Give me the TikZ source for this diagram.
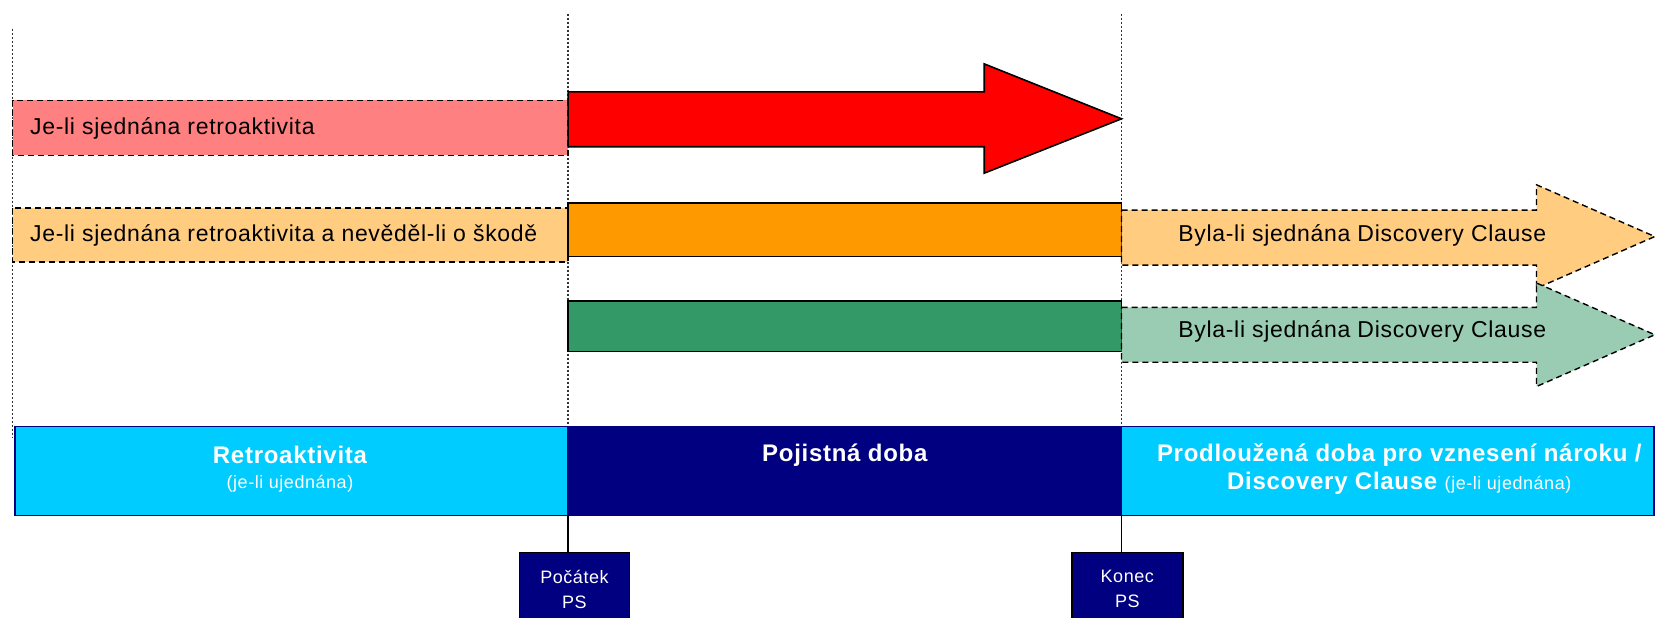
\documentclass[tikz,border=0pt]{standalone}
\usepackage{fontspec}
\setmainfont{Liberation Sans}[LetterSpace=3]
\definecolor{cRed}{HTML}{FF0000}
\definecolor{cOrange}{HTML}{FF9900}
\definecolor{cGreen}{HTML}{339966}
\definecolor{cNavy}{HTML}{000080}
\definecolor{cCyan}{HTML}{00CCFF}
\begin{document}
\begin{tikzpicture}[x=1.056pt,y=-1.056pt,
  guide/.style={draw=black!80, line width=1.3pt, dash pattern=on 2pt off 2pt},
  optbox/.style={draw=black, line width=1.4pt, dash pattern=on 6pt off 4pt},
  solidbox/.style={draw=black, line width=1.6pt},
  barbox/.style={draw=cNavy, line width=1.6pt},
  lbl/.style={font=\fontsize{23}{27}\selectfont, inner sep=0pt},
  barlbl/.style={font=\fontsize{24}{28}\selectfont\bfseries, text=white, inner sep=0pt},
  subtxt/.style={font=\fontsize{18}{22}\selectfont, text=white, inner sep=0pt},
  psbox/.style={draw=black, line width=1.6pt, fill=cNavy},
  pstxt/.style={text=white, font=\fontsize{18}{25}\selectfont, align=center, inner sep=0pt},
  conn/.style={draw=black, line width=1.6pt}
]
\useasboundingbox (0,0) rectangle (1567.2,585.2);
% guide lines
\coordinate (g0t) at (12,27);   \coordinate (g0b) at (12,415);
\coordinate (g1t) at (538,13);  \coordinate (g1b) at (538,404);
\coordinate (g2t) at (1062,13); \coordinate (g2b) at (1062,404);
\draw[guide] (g0t) -- (g0b);
\draw[guide] (g1t) -- (g1b);
\draw[guide] (g2t) -- (g2b);

% row 1: red
\draw[optbox, fill=cRed!50] (12,95) rectangle (538,147);
\node[lbl, anchor=west] (t1) at (28.4,121.2) {Je-li sjednána retroaktivita};
\draw[solidbox, fill=cRed] (538,87) -- (932,87) -- (932,60.5) -- (1062,112.5) -- (932,164) -- (932,139) -- (538,139) -- cycle;

% row 2: orange
\draw[optbox, fill=cOrange!50] (12,197) rectangle (538,248);
\node[lbl, anchor=west] (t2) at (28.4,222.5) {Je-li sjednána retroaktivita a nevěděl-li o škodě};
\draw[solidbox, fill=cOrange] (538,192) rectangle (1062,243);
\draw[optbox, fill=cOrange!50] (1062,199) -- (1455,199) -- (1455,175) -- (1567,224) -- (1455,273) -- (1455,251) -- (1062,251) -- cycle;
\node[lbl] (t3) at (1290,222.5) {Byla-li sjednána Discovery Clause};

% row 3: green
\draw[solidbox, fill=cGreen] (538,285) rectangle (1062,333);
\draw[optbox, fill=cGreen!50] (1062,291) -- (1455,291) -- (1455,268) -- (1567,317) -- (1455,366) -- (1455,343) -- (1062,343) -- cycle;
\node[lbl] (t4) at (1290,314) {Byla-li sjednána Discovery Clause};

% bottom bar
\draw[barbox, fill=cCyan] (14,404) rectangle (538,488);
\draw[barbox, fill=cNavy] (538,404) rectangle (1062,488);
\draw[barbox, fill=cCyan] (1062,404) rectangle (1566,488);
\node[barlbl] (b1) at (274.6,431) {Retroaktivita};
\node[subtxt] (b1s) at (274.6,458) {(je-li ujednána)};
\node[barlbl] (b2) at (800,431) {Pojistná doba};
\node[barlbl] (b3) at (1325,431) {Prodloužená doba pro vznesení nároku /};
\node[barlbl] (b3s) at (1325,458) {Discovery Clause {\fontsize{18}{22}\selectfont\mdseries(je-li ujednána)}};

% PS boxes
\draw[psbox] (492,523) rectangle (596,600);
\draw[psbox] (1015,523) rectangle (1120,600);
\node[pstxt] (ps1) at (544,558) {Počátek\\PS};
\node[pstxt] (ps2) at (1067.5,558) {Konec\\PS};
\coordinate (c1) at (538,488);  \coordinate (d1) at (538,523);
\coordinate (c2) at (1062,488); \coordinate (d2) at (1062,523);
\draw[conn] (c1) -- (d1);
\draw[conn] (c2) -- (d2);
\end{tikzpicture}
\end{document}
